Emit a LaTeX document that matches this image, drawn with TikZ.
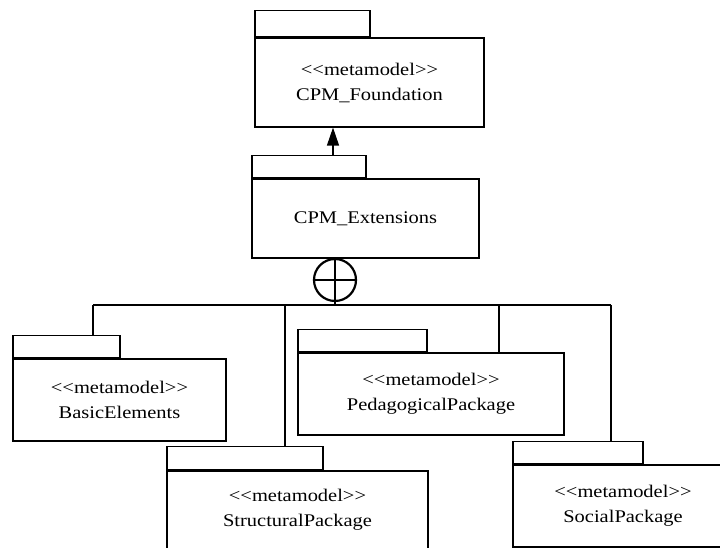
\documentclass[tikz,border=0pt]{standalone}
\usepackage{fontspec}
\setmainfont{Liberation Serif}[FakeStretch=1.15]
\usetikzlibrary{arrows.meta,positioning}

\newcommand\stereo[1]{<\kern0pt<#1>\kern0pt>}

\begin{document}
\begin{tikzpicture}[x=1pt, y=1pt,
		pkg/.style={draw, line width=1.2pt, align=center, font=\fontsize{17.8}{25}\selectfont, inner sep=0pt},
		tab/.style={draw, line width=1.2pt, anchor=south west, inner sep=0pt},
		bus/.style={line width=2.5pt}
	]
		\useasboundingbox (0,0) rectangle (720,548);

		\node[pkg, minimum width=229pt, minimum height=89pt] (fnd) at (369.5,465.5) {\stereo{metamodel}\\CPM\_Foundation};
		\node[tab, minimum width=115pt, minimum height=26pt] (fndtab) at (fnd.north west) {};

		\node[pkg, minimum width=227pt, minimum height=79pt] (ext) at (365.5,329.5) {CPM\_Extensions};
		\node[tab, minimum width=114pt, minimum height=22pt] (exttab) at (ext.north west) {};

		\node[pkg, minimum width=213pt, minimum height=82pt] (bas) at (119.5,148) {\stereo{metamodel}\\BasicElements};
		\node[tab, minimum width=107pt, minimum height=22pt] (bastab) at (bas.north west) {};

		\node[pkg, minimum width=266pt, minimum height=82pt] (ped) at (431,154) {\stereo{metamodel}\\PedagogicalPackage};
		\node[tab, minimum width=129pt, minimum height=22pt] (pedtab) at (ped.north west) {};

		\node[pkg, minimum width=261pt, minimum height=78pt] (str) at (297.5,38) {\stereo{metamodel}\\StructuralPackage};
		\node[tab, minimum width=156pt, minimum height=23pt] (strtab) at (str.north west) {};

		\node[pkg, minimum width=220pt, minimum height=82pt] (soc) at (623,42) {\stereo{metamodel}\\SocialPackage};
		\node[tab, minimum width=130pt, minimum height=22pt] (soctab) at (soc.north west) {};

		% dependency
		\coordinate (dep) at (333,0);
		\draw[line width=1.2pt, -{Triangle[length=18pt,width=12pt]}] (dep |- exttab.north) -- (dep |- fnd.south);

		% containment
		\node[draw, circle, line width=2.2pt, minimum size=42pt, inner sep=0pt] (own) at (335,268) {};
		\draw[bus] (own.north) -- (own.south);
		\draw[bus] (own.west) -- (own.east);

		\coordinate (jb) at (93,243);
		\coordinate (js) at (285,243);
		\coordinate (jp) at (499,243);
		\coordinate (jo) at (611,243);
		\draw[bus] (own.south) -- (own.south |- jb);
		\draw[bus] (jb) -- (jo);
		\draw[bus] (jb) -- (jb |- bastab.north);
		\draw[bus] (js) -- (js |- strtab.north);
		\draw[bus] (jp) -- (jp |- ped.north);
		\draw[bus] (jo) -- (jo |- soctab.north);
	\end{tikzpicture}
\end{document}
